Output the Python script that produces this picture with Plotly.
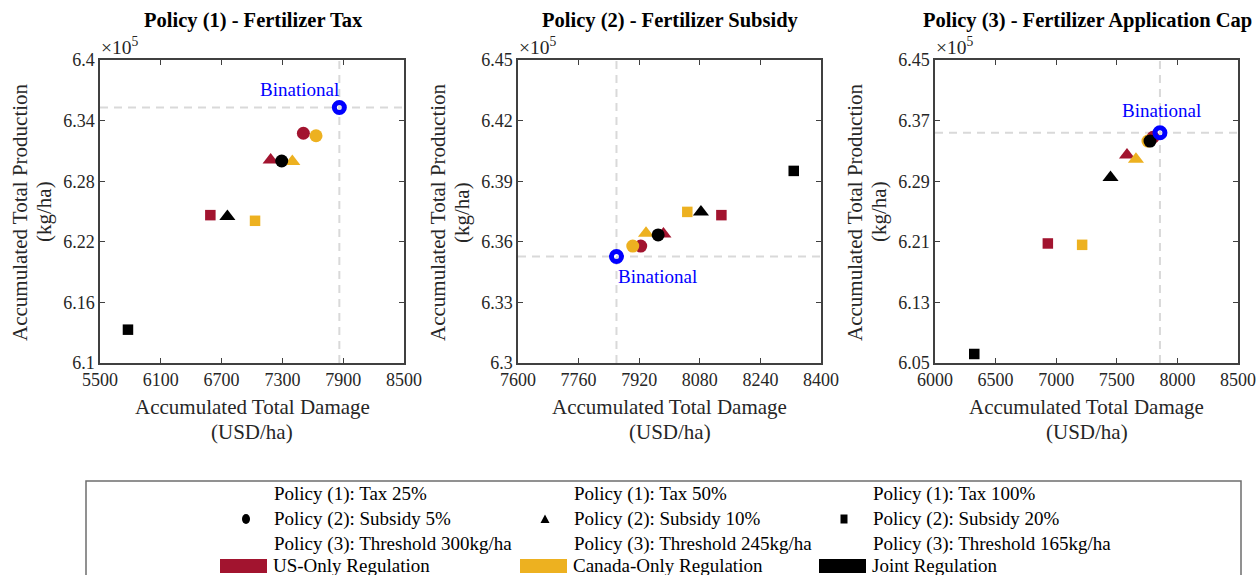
import plotly.graph_objects as go

W, H = 1260, 575
FONT = "Liberation Serif, Times New Roman, serif"

# ---------------- data (production in units of 1e5 kg/ha) ----------------
panel_titles = ["Policy (1) - Fertilizer Tax",
                "Policy (2) - Fertilizer Subsidy",
                "Policy (3) - Fertilizer Application Cap"]

# order within each list: circle (level 1), triangle (level 2), square (level 3)
us_damage = [[7507, 7184, 6589], [7924, 7984, 8137], [7799, 7584, 6931]]
us_prod = [[6.3275, 6.3010, 6.2464], [6.3579, 6.3638, 6.3732], [6.3480, 6.3246, 6.2078]]
ca_damage = [[7632, 7398, 7030], [7903, 7938, 8047], [7757, 7658, 7214]]
ca_prod = [[6.3250, 6.2995, 6.2408], [6.3579, 6.3642, 6.3748], [6.3430, 6.3190, 6.2060]]
joint_damage = [[7293, 6757, 5776], [7970, 8083, 8328], [7774, 7448, 6324]]
joint_prod = [[6.3000, 6.2450, 6.1330], [6.3634, 6.3748, 6.3951], [6.3430, 6.2948, 6.0619]]
bin_damage = [7862, 7860, 7856]
bin_prod = [6.3530, 6.3527, 6.3540]

x_ranges = [[5500, 8500], [7600, 8400], [6000, 8500]]
x_ticks = [[5500, 6100, 6700, 7300, 7900, 8500],
           [7600, 7760, 7920, 8080, 8240, 8400],
           [6000, 6500, 7000, 7500, 8000, 8500]]
y_ranges = [[6.1, 6.4], [6.3, 6.45], [6.05, 6.45]]
y_ticks = [[6.1, 6.16, 6.22, 6.28, 6.34, 6.4],
           [6.3, 6.33, 6.36, 6.39, 6.42, 6.45],
           [6.05, 6.13, 6.21, 6.29, 6.37, 6.45]]
y_tick_labels = [["6.1", "6.16", "6.22", "6.28", "6.34", "6.4"],
                 ["6.3", "6.33", "6.36", "6.39", "6.42", "6.45"],
                 ["6.05", "6.13", "6.21", "6.29", "6.37", "6.45"]]

region_names = ["US-Only Regulation", "Canada-Only Regulation", "Joint Regulation"]
region_colors = ["#A2142F", "#EDB120", "#000000"]
level_labels = [
    ["Policy (1): Tax 25%", "Policy (2): Subsidy 5%", "Policy (3): Threshold 300kg/ha"],
    ["Policy (1): Tax 50%", "Policy (2): Subsidy 10%", "Policy (3): Threshold 245kg/ha"],
    ["Policy (1): Tax 100%", "Policy (2): Subsidy 20%", "Policy (3): Threshold 165kg/ha"],
]
symbols = ["circle", "triangle-up", "square"]
sizes = [13, 14, 10.5]

# ---------------- layout geometry (pixels) ----------------
panel_px = [(100, 404), (518, 821), (935, 1238)]
top_px, bot_px = 60, 363


def px(x):
    return x / W


def py(y):
    return 1 - y / H


def label(text, x, y, size, color="#262626", xanchor="center", **kw):
    return dict(text=text, xref="paper", yref="paper", x=px(x), y=py(y),
                xanchor=xanchor, yanchor="middle", showarrow=False,
                font=dict(family=FONT, size=size, color=color), **kw)


fig = go.Figure()
annotations = []
shapes = []

for i in range(3):
    ax = "" if i == 0 else str(i + 1)
    xref, yref = "x" + ax, "y" + ax
    series = [(us_damage[i], us_prod[i]), (ca_damage[i], ca_prod[i]),
              (joint_damage[i], joint_prod[i])]
    for k, (xs, ys) in enumerate(series):
        fig.add_trace(go.Scatter(
            x=xs, y=ys, mode="markers", xaxis=xref, yaxis=yref,
            showlegend=False, hoverinfo="x+y",
            marker=dict(symbol=symbols, size=sizes, color=region_colors[k],
                        opacity=1, line=dict(width=0))))
    fig.add_trace(go.Scatter(
        x=[bin_damage[i]], y=[bin_prod[i]], mode="markers", xaxis=xref, yaxis=yref,
        showlegend=False,
        marker=dict(symbol="circle-open", size=10, color="#0000FF", opacity=1,
                    line=dict(width=5, color="#0000FF"))))

    l, r = panel_px[i]
    axis_common = dict(showgrid=False, zeroline=False, showline=True, mirror="allticks",
                       linecolor="#404040", linewidth=1.5, ticks="inside", ticklen=5,
                       tickwidth=1, tickcolor="#404040", automargin=False,
                       tickfont=dict(family=FONT, size=18, color="#262626"))
    fig.update_layout(**{
        "xaxis" + ax: dict(domain=[px(l), px(r)], range=x_ranges[i], anchor=yref,
                           tickmode="array", tickvals=x_ticks[i],
                           ticktext=[str(v) for v in x_ticks[i]], **axis_common),
        "yaxis" + ax: dict(domain=[py(bot_px), py(top_px)], range=y_ranges[i], anchor=xref,
                           tickmode="array", tickvals=y_ticks[i],
                           ticktext=y_tick_labels[i], **axis_common),
    })

    # dashed reference lines through the binational point
    dash_line = dict(color="#d9d9d9", width=2, dash="8px,6px")
    shapes.append(dict(type="line", xref=xref, yref=yref + " domain",
                       x0=bin_damage[i], x1=bin_damage[i], y0=0, y1=1,
                       line=dash_line, layer="below"))
    shapes.append(dict(type="line", xref=xref + " domain", yref=yref,
                       x0=0, x1=1, y0=bin_prod[i], y1=bin_prod[i],
                       line=dash_line, layer="below"))

    cx = (l + r) / 2
    annotations.append(label("<b>" + panel_titles[i] + "</b>", cx + 1, 21, 20.5, color="#000"))
    annotations.append(label("×10<sup>5</sup>", l - 1, 46, 19.5, xanchor="left"))
    annotations.append(label("Accumulated Total Damage", cx, 407, 21))
    annotations.append(label("(USD/ha)", cx, 432, 21))
    annotations.append(label("Accumulated Total Production", l - 80, 212, 21, textangle=-90))
    annotations.append(label("(kg/ha)", l - 56, 212, 21, textangle=-90))

# Binational labels
bin_label_pos = [dict(xanchor="right", yanchor="middle", xshift=2, yshift=18),
                 dict(xanchor="left", yanchor="middle", xshift=0, yshift=-20),
                 dict(xanchor="center", yanchor="middle", xshift=2, yshift=22)]
for i in range(3):
    ax = "" if i == 0 else str(i + 1)
    annotations.append(dict(text="Binational", xref="x" + ax, yref="y" + ax,
                            x=bin_damage[i], y=bin_prod[i], showarrow=False,
                            font=dict(family=FONT, size=19, color="#0000FF"),
                            **bin_label_pos[i]))

# ---------------- legend box ----------------
shapes.append(dict(type="rect", xref="paper", yref="paper",
                   x0=px(86), x1=px(1241), y0=py(481), y1=py(590),
                   line=dict(color="#6e6e6e", width=1.5), fillcolor="rgba(0,0,0,0)"))
col_text_x = [272, 572, 871]
row_y = [494, 519, 544, 565]
for c in range(3):
    for r_ in range(3):
        annotations.append(label(level_labels[c][r_], col_text_x[c], row_y[r_], 19,
                                 color="#000", xanchor="left"))
    annotations.append(label(region_names[c], col_text_x[c] - 1, row_y[3], 19,
                             color="#000", xanchor="left"))
    # color patch
    shapes.append(dict(type="rect", xref="paper", yref="paper",
                       x0=px(col_text_x[c] - 52), x1=px(col_text_x[c] - 5),
                       y0=py(559), y1=py(573), line=dict(width=0),
                       fillcolor=region_colors[c]))

# legend marker glyphs
mx = [246, 545, 844]
my = 519
shapes.append(dict(type="circle", xref="paper", yref="paper",
                   x0=px(mx[0] - 4), x1=px(mx[0] + 4), y0=py(my - 5), y1=py(my + 5),
                   fillcolor="#000", line=dict(width=0)))
tri = "M {} {} L {} {} L {} {} Z".format(px(mx[1] - 4.5), py(my + 4), px(mx[1] + 4.5),
                                         py(my + 4), px(mx[1]), py(my - 4.5))
shapes.append(dict(type="path", xref="paper", yref="paper", path=tri,
                   fillcolor="#000", line=dict(width=0)))
shapes.append(dict(type="rect", xref="paper", yref="paper",
                   x0=px(mx[2] - 3.5), x1=px(mx[2] + 3.5), y0=py(my - 4.5), y1=py(my + 4.5),
                   fillcolor="#000", line=dict(width=0)))

fig.update_layout(
    template="none",
    width=W, height=H, margin=dict(l=0, r=0, t=0, b=0, pad=0),
    paper_bgcolor="white", plot_bgcolor="white",
    showlegend=False, annotations=annotations, shapes=shapes,
    font=dict(family=FONT),
)

fig.write_html("out.html")
